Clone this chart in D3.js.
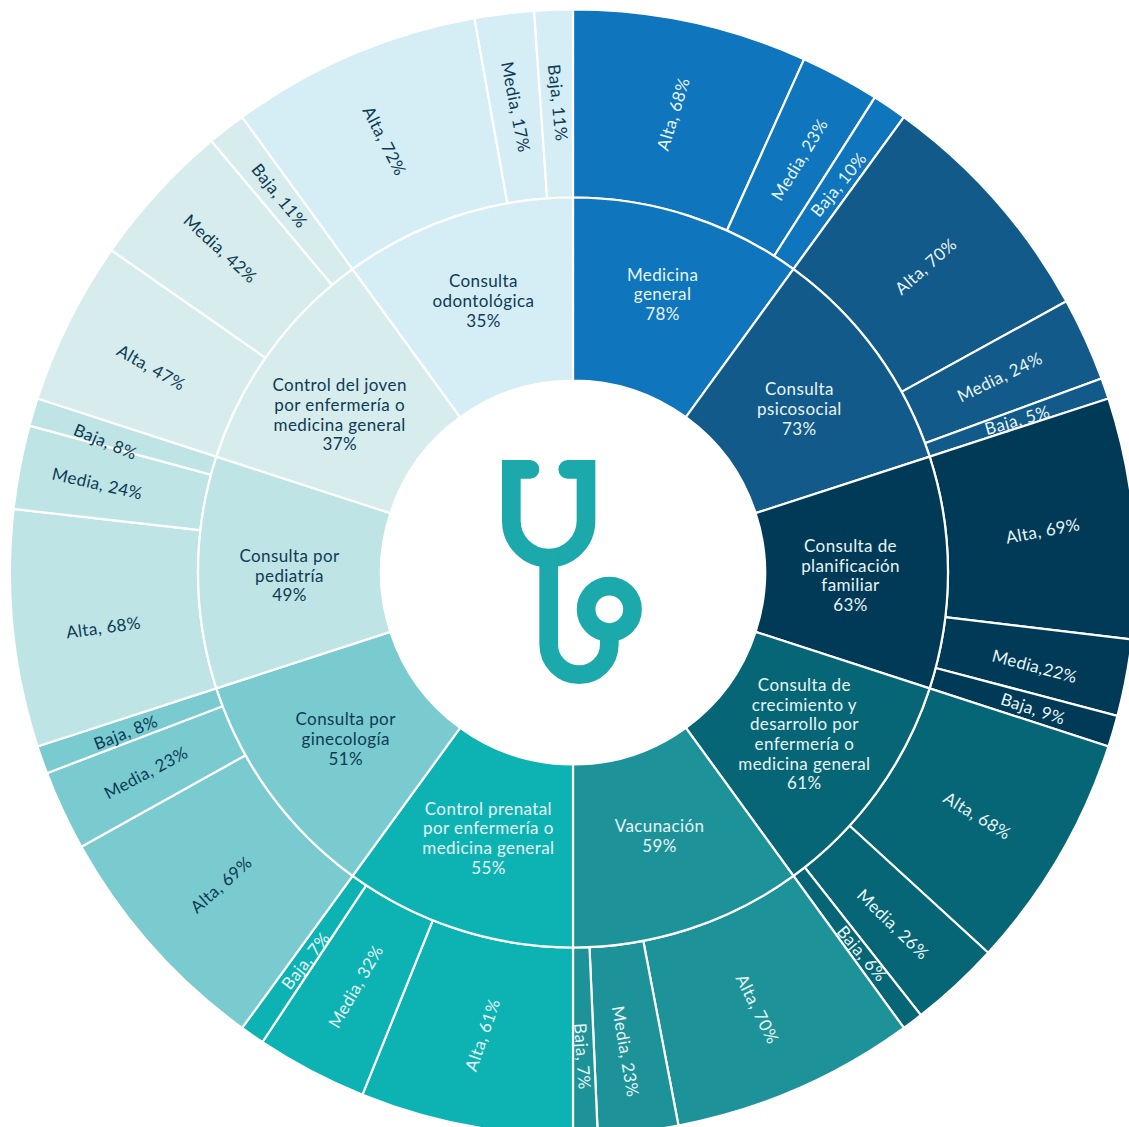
<!DOCTYPE html>
<html>
<head>
<meta charset="utf-8">
<script src="https://cdn.jsdelivr.net/npm/d3@7"></script>
<style>
  html, body { margin: 0; padding: 0; background: #fff; overflow: hidden; }
  text { font-family: Lato, "Open Sans", sans-serif; font-size: 17px; letter-spacing: 0.4px; text-anchor: middle; }
</style>
</head>
<body>
<div id="chart"></div>
<script>
const categories = [
  ['Medicina', 'general'],
  ['Consulta', 'psicosocial'],
  ['Consulta de', 'planificación', 'familiar'],
  ['Consulta de', 'crecimiento y', 'desarrollo por', 'enfermería o', 'medicina general'],
  ['Vacunación'],
  ['Control prenatal', 'por enfermería o', 'medicina general'],
  ['Consulta por', 'ginecología'],
  ['Consulta por', 'pediatría'],
  ['Control del joven', 'por enfermería o', 'medicina general'],
  ['Consulta', 'odontológica']
];
const totals = [78, 73, 63, 61, 59, 55, 51, 49, 37, 35];
const levels = ['Alta', 'Media', 'Baja'];
const alta = [68, 70, 69, 68, 70, 61, 69, 68, 47, 72];
const media = [23, 24, 22, 26, 23, 32, 23, 24, 42, 17];
const baja = [10, 5, 9, 6, 7, 7, 8, 8, 11, 11];
// psicosocial is labelled 5% but its wedge is as wide as 6%
const bajaWedge = [10, 6, 9, 6, 7, 7, 8, 8, 11, 11];

const colors = ['#0f75bc', '#125a89', '#003a57', '#066675', '#1d9399',
  '#0db3b3', '#7acbd0', '#bee4e5', '#d7ecec', '#d5edf5'];
const darkText = '#0d3b55';
const lightText = '#e8f5f6';
const darkLabels = [false, false, false, false, false, false, true, true, true, true];

// hand placement of the labels, as in the source: dx, dy, and for the outer ring extra rotation
const innerShift = [[2, -8.5], [-3, 3], [-6, 3], [2, -5], [-1, -6], [3, -4], [2, 0], [0, 3], [-4, 9], [-2, -2]];
const outerShift = [
  [[2, 0, 5], [4, 0, 3], [2, 0, 5]],
  [[1, 4, 0], [0, -1, -1.5], [1, 1, 3]],
  [[3, 4, -5], [1, 6, 4], [10, 4, 2]],
  [[-1, 7, 1], [1, 8, -3], [6, 7, -3]],
  [[-2, 6, -3], [-2, 13, -3], [-1, 15, -3]],
  [[-1, 2, 8], [1, -1, 2], [0, 3, 3]],
  [[-1, 1, 0], [-2, 2, -3], [-5, 4, -2]],
  [[-3, 8, -2], [-15, -1, 2], [-18, 3, 6]],
  [[-2, 4, 3], [-7, -7, 0], [-5, -7, -1]],
  [[-5, 0, -4], [0, 0, -4], [1, -1, -4]]
];

const width = 1129, height = 1127;
const cx = 573, cy = 572.5;
const r0 = 192, r1 = 375, r2 = 563;

const svg = d3.select('#chart').append('svg')
  .attr('width', width)
  .attr('height', height);

const g = svg.append('g').attr('transform', `translate(${cx},${cy})`);

const pie = d3.pie().value(1).sort(null);
const subPie = d3.pie().value(d => d.size).sort(null);
const innerArc = d3.arc().innerRadius(r0).outerRadius(r1);
const outerArc = d3.arc().innerRadius(r1).outerRadius(r2);

const slices = pie(categories.map((c, i) => i));

// outer ring: Alta / Media / Baja inside each category slice
const parts = slices.flatMap((s, i) => {
  const rows = [
    { value: alta[i], size: alta[i], level: levels[0], j: 0, i },
    { value: media[i], size: media[i], level: levels[1], j: 1, i },
    { value: baja[i], size: bajaWedge[i], level: levels[2], j: 2, i }
  ];
  return subPie.startAngle(s.startAngle).endAngle(s.endAngle)(rows);
});

g.append('g').selectAll('path')
  .data(parts)
  .join('path')
  .attr('d', outerArc)
  .attr('fill', d => colors[d.data.i])
  .attr('stroke', '#fff')
  .attr('stroke-width', 2.2);

g.append('g').selectAll('text')
  .data(parts)
  .join('text')
  .attr('transform', d => {
    const [x, y] = outerArc.centroid(d);
    const [dx, dy, dr] = outerShift[d.data.i][d.data.j];
    const deg = (d.startAngle + d.endAngle) / 2 * 180 / Math.PI;
    const rot = (deg < 180 ? deg - 90 : deg + 90) + dr;
    return `translate(${x + dx},${y + dy}) rotate(${rot})`;
  })
  .attr('dy', '0.35em')
  .attr('fill', d => darkLabels[d.data.i] ? darkText : lightText)
  .text(d => {
    // the source writes this one without the space
    const sep = (d.data.i === 2 && d.data.level === 'Media') ? ',' : ', ';
    return `${d.data.level}${sep}${d.data.value}%`;
  });

// inner ring
g.append('g').selectAll('path')
  .data(slices)
  .join('path')
  .attr('d', innerArc)
  .attr('fill', (d, i) => colors[i])
  .attr('stroke', '#fff')
  .attr('stroke-width', 2.2);

const lineH = 19.7;
g.append('g').selectAll('text')
  .data(slices)
  .join('text')
  .attr('transform', (d, i) => {
    const [x, y] = innerArc.centroid(d);
    return `translate(${x + innerShift[i][0]},${y + innerShift[i][1]})`;
  })
  .attr('fill', (d, i) => darkLabels[i] ? darkText : lightText)
  .each(function (d, i) {
    const lines = categories[i].concat(totals[i] + '%');
    d3.select(this).selectAll('tspan')
      .data(lines)
      .join('tspan')
      .attr('x', 0)
      .attr('y', (l, k) => (k - (lines.length - 1) / 2) * lineH + 6)
      .text(l => l);
  });

// stethoscope in the hole
const icon = svg.append('g')
  .attr('fill', 'none')
  .attr('stroke', '#1ba9ab')
  .attr('stroke-width', 18.7);
icon.append('path')
  .attr('stroke-linecap', 'round')
  .attr('stroke-linejoin', 'miter')
  .attr('d', 'M530,469.3 L511.3,469.3 L511.3,520.7 A37.35,37.35 0 0 0 586,520.7 L586,469.3 L567.7,469.3');
icon.append('path')
  .attr('d', 'M548.7,550 L548.7,644.4 A30.3,30.3 0 0 0 609.3,644.4 L609.3,625');
icon.append('circle')
  .attr('cx', 609.3)
  .attr('cy', 609.3)
  .attr('r', 23.2);
</script>
</body>
</html>
